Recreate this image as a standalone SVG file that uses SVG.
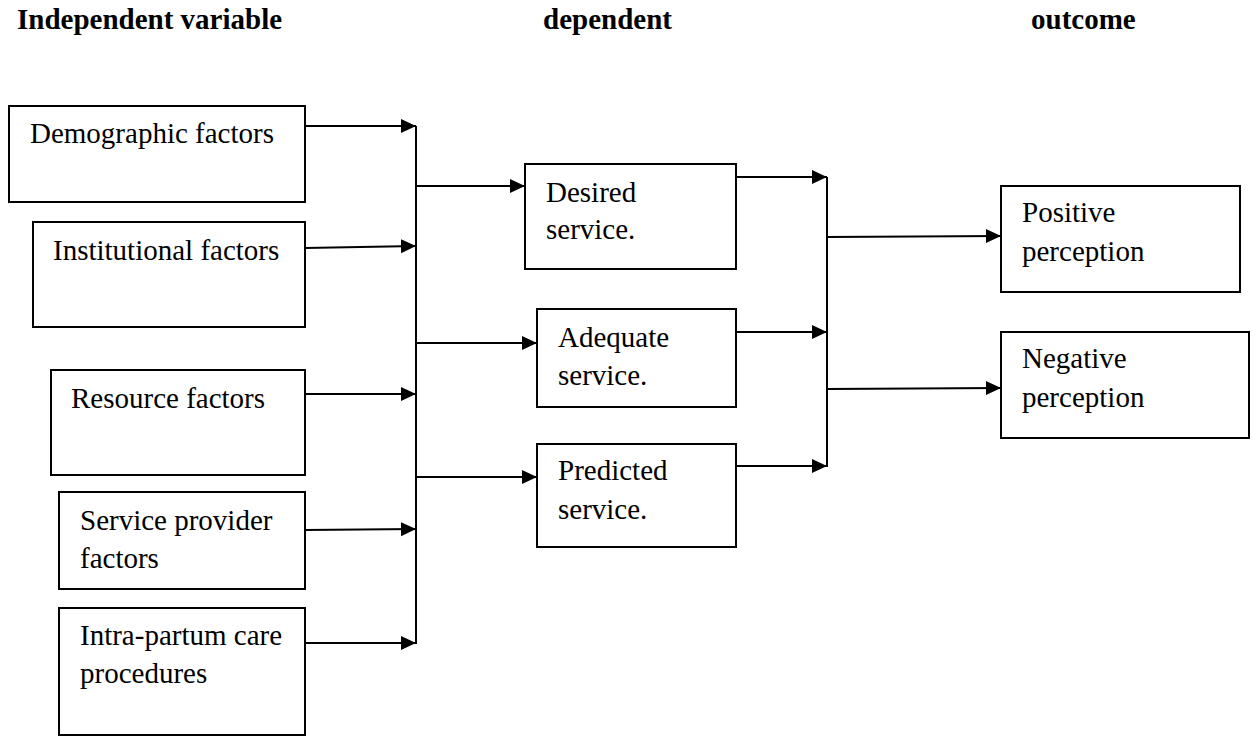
<svg xmlns="http://www.w3.org/2000/svg" width="1252" height="736" viewBox="0 0 1252 736">
  <style>
    .box { fill: #ffffff; stroke: #000000; stroke-width: 2; }
    .t { font-family: "Liberation Serif", "Times New Roman", serif; font-size: 29px; fill: #000000; }
    .h { font-family: "Liberation Serif", "Times New Roman", serif; font-size: 29px; font-weight: bold; fill: #000000; }
    .c { fill: none; stroke: #000000; stroke-width: 2; }
    .ca { fill: none; stroke: #000000; stroke-width: 2; marker-end: url(#arrow); }
  </style>
  <defs>
    <marker id="arrow" markerUnits="userSpaceOnUse" markerWidth="16" markerHeight="16" refX="15" refY="7" orient="auto">
      <path d="M0,0 L15,7 L0,14 z" fill="#000000"/>
    </marker>
  </defs>
  <rect width="1252" height="736" fill="#ffffff"/>

  <g id="headers">
    <text class="h" x="17" y="29">Independent variable</text>
    <text class="h" x="543" y="29">dependent</text>
    <text class="h" x="1031" y="29">outcome</text>
  </g>

  <g id="connectors">
    <line class="ca" x1="305" y1="126" x2="416" y2="126"/>
    <line class="ca" x1="305" y1="248" x2="416" y2="246"/>
    <line class="ca" x1="305" y1="394" x2="416" y2="394"/>
    <line class="ca" x1="305" y1="530" x2="416" y2="529"/>
    <line class="ca" x1="305" y1="643" x2="416" y2="643"/>
    <line class="c" x1="416" y1="126" x2="416" y2="644"/>
    <line class="ca" x1="416" y1="186" x2="525" y2="186"/>
    <line class="ca" x1="416" y1="343" x2="537" y2="343"/>
    <line class="ca" x1="416" y1="477" x2="537" y2="477"/>
    <line class="ca" x1="736" y1="177" x2="827" y2="177"/>
    <line class="ca" x1="736" y1="332" x2="827" y2="332"/>
    <line class="ca" x1="736" y1="466" x2="827" y2="466"/>
    <line class="c" x1="827" y1="177" x2="827" y2="467"/>
    <line class="ca" x1="827" y1="237" x2="1001" y2="236"/>
    <line class="ca" x1="827" y1="389" x2="1001" y2="388"/>
  </g>

  <g id="demographic">
    <rect class="box" x="9" y="106" width="296" height="96"/>
    <text class="t" x="30" y="143">Demographic factors</text>
  </g>
  <g id="institutional">
    <rect class="box" x="33" y="222" width="272" height="105"/>
    <text class="t" x="53" y="260">Institutional factors</text>
  </g>
  <g id="resource">
    <rect class="box" x="51" y="370" width="254" height="105"/>
    <text class="t" x="71" y="408">Resource factors</text>
  </g>
  <g id="service-provider">
    <rect class="box" x="59" y="492" width="246" height="97"/>
    <text class="t" x="80" y="530">Service provider</text>
    <text class="t" x="80" y="568">factors</text>
  </g>
  <g id="intra-partum">
    <rect class="box" x="59" y="608" width="246" height="127"/>
    <text class="t" x="80" y="645">Intra-partum care</text>
    <text class="t" x="80" y="683">procedures</text>
  </g>

  <g id="desired">
    <rect class="box" x="525" y="164" width="211" height="105"/>
    <text class="t" x="546" y="202">Desired</text>
    <text class="t" x="546" y="239">service.</text>
  </g>
  <g id="adequate">
    <rect class="box" x="537" y="309" width="199" height="98"/>
    <text class="t" x="558" y="347">Adequate</text>
    <text class="t" x="558" y="385">service.</text>
  </g>
  <g id="predicted">
    <rect class="box" x="537" y="444" width="199" height="103"/>
    <text class="t" x="558" y="480">Predicted</text>
    <text class="t" x="558" y="519">service.</text>
  </g>

  <g id="positive">
    <rect class="box" x="1001" y="186" width="239" height="106"/>
    <text class="t" x="1022" y="222">Positive</text>
    <text class="t" x="1022" y="261">perception</text>
  </g>
  <g id="negative">
    <rect class="box" x="1001" y="332" width="248" height="106"/>
    <text class="t" x="1022" y="368">Negative</text>
    <text class="t" x="1022" y="407">perception</text>
  </g>
</svg>
